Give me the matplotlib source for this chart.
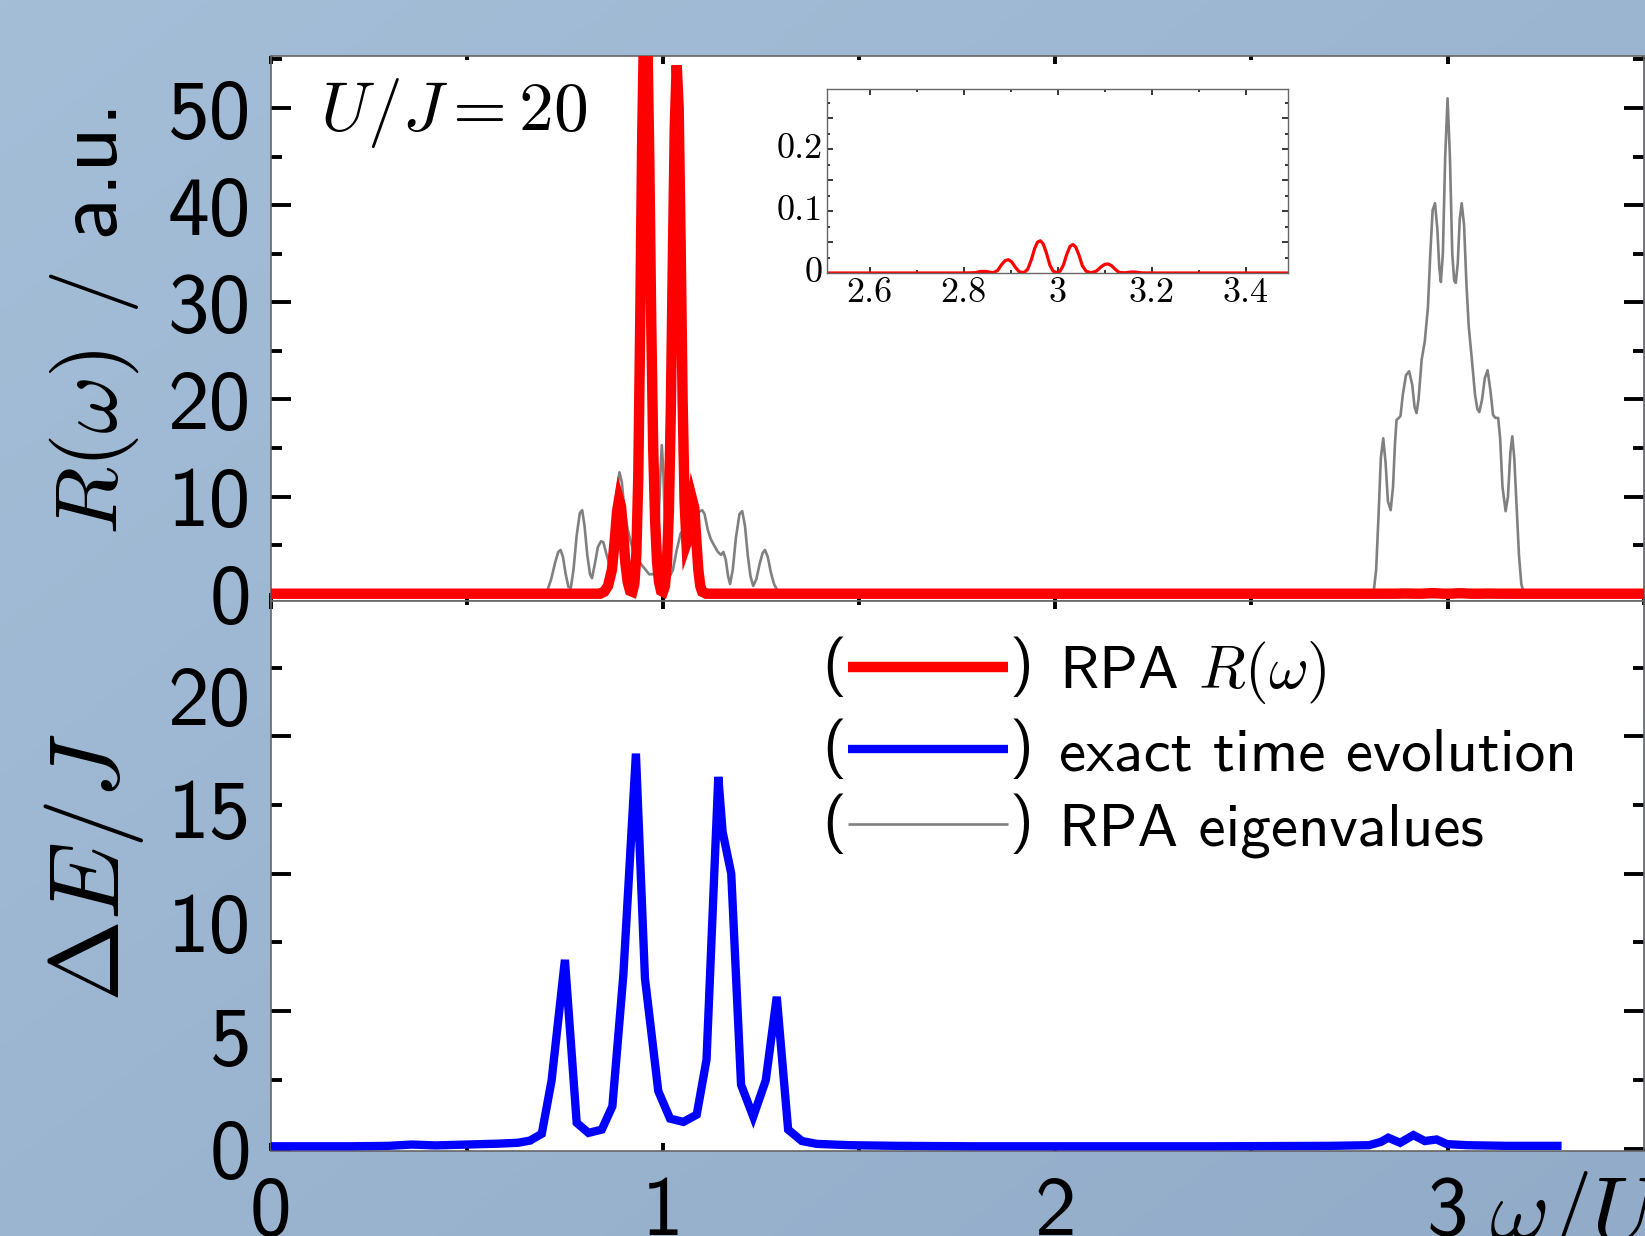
import numpy as np
import matplotlib
matplotlib.use("Agg")
import matplotlib.pyplot as plt
from matplotlib.ticker import MultipleLocator, FuncFormatter
from matplotlib.legend_handler import HandlerBase
from matplotlib.lines import Line2D
from matplotlib.text import Text
from matplotlib.colors import LinearSegmentedColormap

plt.rcParams["mathtext.fontset"] = "cm"
plt.rcParams["font.family"] = ["cmss10", "DejaVu Sans"]
plt.rcParams["axes.unicode_minus"] = False

# ---------------- data ----------------
red_w = [0.0, 0.84, 0.85, 0.86, 0.87, 0.877, 0.883, 0.888, 0.893, 0.898, 0.904, 0.91, 0.916, 0.922,
         0.927, 0.932, 0.937, 0.942, 0.947, 0.952, 0.956, 0.96, 0.965, 0.97, 0.975, 0.98, 0.985, 0.99,
         0.995, 1.0, 1.005, 1.01, 1.015, 1.02, 1.025, 1.03, 1.035, 1.04, 1.045, 1.05, 1.055, 1.06,
         1.065, 1.07, 1.075, 1.08, 1.085, 1.09, 1.095, 1.1, 1.11,
         2.8, 2.825, 2.835, 2.848, 2.862, 2.872, 2.88, 2.888, 2.895, 2.902, 2.91, 2.918, 2.928, 2.936,
         2.944, 2.951, 2.957, 2.963, 2.969, 2.976, 2.983, 2.99, 2.998, 3.005, 3.012, 3.019, 3.026,
         3.032, 3.038, 3.045, 3.052, 3.06, 3.07, 3.082, 3.092, 3.1, 3.107, 3.114, 3.122, 3.13, 3.142,
         3.155, 3.165, 3.178, 3.2, 3.5]
red_r = [0.0, 0.0, 0.2, 0.8, 2.5, 5.5, 8.5, 9.7, 9.0, 6.5, 3.2, 1.2, 0.3, 0.2,
         1.0, 4.0, 12.0, 28.0, 47.0, 59.0, 62.0, 58.0, 45.0, 28.0, 15.0, 7.5, 3.2, 1.2,
         0.3, 0.2, 0.8, 3.0, 8.5, 19.0, 34.0, 48.0, 54.4, 50.0, 36.0, 20.0, 9.5, 5.2,
         5.8, 8.0, 9.6, 8.8, 5.5, 2.5, 0.8, 0.2, 0.0,
         0.0, 0.0005, 0.0025, 0.0025, 0.0003, 0.004, 0.013, 0.020, 0.0215, 0.018, 0.009, 0.002, 0.0005,
         0.006, 0.022, 0.040, 0.050, 0.052, 0.047, 0.032, 0.013, 0.003, 0.0005, 0.003, 0.013, 0.030,
         0.043, 0.046, 0.042, 0.029, 0.012, 0.003, 0.0003, 0.003, 0.010, 0.014, 0.0145, 0.012, 0.006,
         0.001, 0.0003, 0.0015, 0.0015, 0.0002, 0.0, 0.0]

gray_w = [0.0, 0.69, 0.705, 0.715, 0.725, 0.733, 0.739, 0.745, 0.752, 0.759, 0.765, 0.772, 0.78,
          0.788, 0.794, 0.8, 0.807, 0.814, 0.819, 0.826, 0.834, 0.842, 0.848, 0.855, 0.862, 0.868,
          0.875, 0.882, 0.889, 0.895, 0.902, 0.91, 0.918, 0.926, 0.935, 0.945, 0.955, 0.965, 0.975,
          0.982, 0.988, 0.993, 0.997, 1.001, 1.006, 1.011, 1.017, 1.025, 1.035, 1.045, 1.06, 1.075,
          1.09, 1.1, 1.106, 1.114, 1.122, 1.13, 1.14, 1.148, 1.154, 1.16, 1.166, 1.171, 1.178, 1.186,
          1.195, 1.202, 1.209, 1.216, 1.223, 1.23, 1.238, 1.246, 1.254, 1.26, 1.267, 1.275, 1.283,
          1.292, 1.3,
          2.8, 2.812, 2.818, 2.824, 2.83, 2.836, 2.842, 2.848, 2.855, 2.861, 2.866, 2.87, 2.876, 2.88,
          2.886, 2.894, 2.902, 2.91, 2.916, 2.921, 2.926, 2.934, 2.942, 2.95, 2.956, 2.962, 2.968,
          2.974, 2.979, 2.983, 2.988, 2.994, 3.0, 3.006, 3.012, 3.017, 3.021, 3.026, 3.031, 3.036,
          3.042, 3.048, 3.054, 3.062, 3.07, 3.076, 3.081, 3.088, 3.095, 3.102, 3.109, 3.116, 3.122,
          3.129, 3.134, 3.14, 3.148, 3.154, 3.16, 3.165, 3.17, 3.176, 3.182, 3.188, 3.195, 3.5]
gray_r = [0.0, 0.0, 0.3, 1.5, 3.2, 4.3, 4.5, 3.8, 2.0, 0.7, 0.6, 2.5, 6.0,
          8.3, 8.6, 7.0, 4.0, 2.0, 1.6, 3.0, 4.8, 5.4, 5.3, 4.2, 3.2, 4.0,
          7.0, 10.5, 12.5, 11.5, 8.5, 6.6, 5.3, 4.3, 3.6, 3.0, 2.5, 2.0, 2.0,
          2.6, 6.5, 12.0, 15.3, 12.5, 5.5, 2.5, 1.8, 2.4, 4.5, 6.2, 7.0, 7.8,
          8.4, 8.6, 8.2, 6.6, 5.6, 5.0, 4.3, 4.0, 4.3, 3.5, 1.8, 1.0, 2.5, 5.8,
          8.2, 8.5, 7.0, 4.0, 1.8, 0.8, 1.5, 3.0, 4.2, 4.5, 3.8, 2.2, 1.0,
          0.3, 0.0,
          0.0, 0.3, 2.5, 8.0, 14.0, 16.0, 13.5, 9.5, 8.6, 11.0, 15.5, 17.9, 18.1, 18.3,
          20.5, 22.5, 22.9, 21.5, 19.2, 18.6, 20.0, 24.1, 26.0, 29.5, 35.0, 39.5, 40.2,
          37.5, 33.5, 32.1, 35.0, 45.0, 51.0, 45.0, 35.0, 32.2, 32.0, 34.0, 38.5, 40.2,
          38.0, 32.0, 27.5, 24.1, 20.5, 19.0, 18.7, 20.0, 22.2, 23.0, 21.0, 18.4, 18.1,
          18.1, 16.0, 11.0, 8.5, 10.0, 14.5, 16.2, 14.0, 9.0, 4.0, 1.0, 0.0, 0.0]

blue_w = [0.0, 0.1, 0.2, 0.3, 0.36, 0.42, 0.5, 0.58, 0.63, 0.661, 0.691, 0.716, 0.75, 0.78, 0.81,
          0.844, 0.871, 0.899, 0.931, 0.954, 0.988, 1.018, 1.052, 1.086, 1.111, 1.141, 1.152, 1.174,
          1.199, 1.23, 1.262, 1.29, 1.319, 1.354, 1.392, 1.477, 1.6, 1.8, 2.0, 2.4, 2.7, 2.8, 2.83,
          2.849, 2.879, 2.913, 2.942, 2.972, 2.998, 3.05, 3.15, 3.28]
blue_e = [0.1, 0.1, 0.1, 0.12, 0.18, 0.14, 0.18, 0.22, 0.26, 0.36, 0.67, 3.09, 8.58, 1.17, 0.71,
          0.86, 1.92, 7.9, 17.96, 7.75, 2.61, 1.36, 1.21, 1.54, 4.04, 16.9, 14.4, 12.5,
          2.9, 1.45, 3.1, 6.9, 0.86, 0.34, 0.21, 0.15, 0.12, 0.1, 0.1, 0.1, 0.12, 0.15, 0.3,
          0.49, 0.26, 0.61, 0.34, 0.41, 0.2, 0.15, 0.12, 0.12]

r_yticks = [0, 10, 20, 30, 40, 50]
e_ylabels = [0, 5, 10, 15, 20]
x_ticks = [0, 1, 2, 3]
inset_xticks = [2.6, 2.8, 3.0, 3.2, 3.4]
legend_labels = [r"RPA $R(\omega)$", "exact time evolution", "RPA eigenvalues"]

# ---------------- figure ----------------
W, H = 1645, 1236
fig = plt.figure(figsize=(W / 100, H / 100), dpi=100)

# light blue gradient background
bg = fig.add_axes([0, 0, 1, 1], zorder=-10)
gx, gy = np.meshgrid(np.linspace(0, 1, 256), np.linspace(0, 1, 256))
bg.imshow((gx + gy) / 2, cmap=LinearSegmentedColormap.from_list("bg", ["#a5bed8", "#92abc8"]),
          aspect="auto", extent=[0, 1, 0, 1], origin="upper")
bg.axis("off")

L = 270.7 / W
AW = (1643.7 - 270.7) / W
ax1 = fig.add_axes([L, 1 - 601 / H, AW, (601 - 55.6) / H])
ax2 = fig.add_axes([L, 1 - 1150.7 / H, AW, (1150.7 - 601) / H])

l_gray, = ax1.plot(gray_w, gray_r, color="#808080", lw=1.9, zorder=2)
l_red, = ax1.plot(red_w, red_r, color="#ff0000", lw=7.5, zorder=3, solid_joinstyle="miter")
l_blue, = ax2.plot(blue_w, blue_e, color="#0000ff", lw=6.0, zorder=3, solid_joinstyle="miter")

TICKFS = 60
for ax in (ax1, ax2):
    ax.set_xlim(0, 3.5)
    ax.xaxis.set_major_locator(MultipleLocator(1))
    ax.xaxis.set_minor_locator(MultipleLocator(0.5))
    ax.tick_params(axis="x", which="both", direction="in", top=True, bottom=True,
                   width=2.8, color="black")
    ax.tick_params(axis="x", which="major", length=6)
    ax.tick_params(axis="x", which="minor", length=3)
    ax.tick_params(axis="y", which="both", direction="in", left=True, right=True,
                   width=2.8, color="black")
    ax.tick_params(axis="y", which="major", length=14.5)
    ax.tick_params(axis="y", which="minor", length=8)
    for s in ax.spines.values():
        s.set_color("#666666")
        s.set_linewidth(1.2)

ax1.set_ylim(-0.75, 55.4)
ax1.set_yticks(r_yticks)
ax1.yaxis.set_minor_locator(MultipleLocator(5))
ax1.tick_params(axis="y", labelsize=TICKFS, pad=14)
ax1.tick_params(axis="x", labelbottom=False)

ax2.set_ylim(-0.1, 24.9)
ax2.yaxis.set_major_locator(MultipleLocator(6.25))
ax2.yaxis.set_minor_locator(MultipleLocator(3.125))
ax2.tick_params(axis="y", labelleft=False)
ax2.set_xticks(x_ticks)
ax2.xaxis.set_major_formatter(FuncFormatter(lambda v, p: "%g" % v))
ax2.tick_params(axis="x", labelsize=TICKFS, pad=18)

# the printed labels of the lower panel sit on a slightly stretched scale
LBL_STRETCH = 1.03
sec = ax2.secondary_yaxis("left", functions=(lambda y: y / LBL_STRETCH,
                                             lambda y: y * LBL_STRETCH))
sec.set_yticks(e_ylabels)
sec.yaxis.set_major_formatter(FuncFormatter(lambda v, p: "%g" % round(v)))
sec.tick_params(length=0, labelsize=TICKFS, pad=14)
sec.spines["left"].set_visible(False)

# labels
fig.text(94 / W, 1 - 322 / H, r"$R(\omega)$ / a.u.", rotation=90, ha="center", va="center",
         fontsize=64)
fig.text(94 / W, 1 - 868 / H, r"$\Delta E/J$", rotation=90, ha="center", va="center",
         fontsize=71)
fig.text(1489 / W, -5 / H, r"$\omega/U$", ha="left", va="baseline", fontsize=66)
ax1.text(0.036, 0.895, r"$U/J=20$", transform=ax1.transAxes, fontsize=50,
         ha="left", va="center")


# legend with parentheses around the line samples
class ParenLineHandler(HandlerBase):
    def create_artists(self, legend, orig_handle, xdescent, ydescent, width, height,
                       fontsize, trans):
        y = (height - ydescent) / 2
        pw = 0.42 * fontsize
        line = Line2D([-xdescent + pw, -xdescent + width - pw], [y, y])
        self.update_prop(line, orig_handle, legend)
        line.set_solid_capstyle("butt")
        line.set_transform(trans)
        lt = Text(-xdescent, y, "(", ha="left", va="center", fontsize=fontsize,
                  transform=trans)
        rt = Text(-xdescent + width, y, ")", ha="right", va="center", fontsize=fontsize,
                  transform=trans)
        return [line, lt, rt]


ax2.legend([l_red, l_blue, l_gray], legend_labels,
           handler_map={Line2D: ParenLineHandler()},
           loc="upper left", bbox_to_anchor=(0.402, 0.93), frameon=False, fontsize=44,
           handlelength=3.45, handletextpad=0.42, labelspacing=0.34, borderpad=0,
           borderaxespad=0)

# inset
axin = fig.add_axes([827.3 / W, 1 - 273 / H, 461 / W, 184 / H])
axin.plot(red_w, red_r, color="#ff0000", lw=2.3)
axin.set_xlim(2.51, 3.49)
axin.set_ylim(0, 0.297)
axin.set_xticks(inset_xticks)
axin.xaxis.set_minor_locator(MultipleLocator(0.1))
axin.xaxis.set_major_formatter(FuncFormatter(lambda v, p: "%g" % round(v, 3)))
axin.yaxis.set_major_locator(MultipleLocator(0.05))
axin.yaxis.set_minor_locator(MultipleLocator(0.025))


def inset_yfmt(v, p):
    k = round(v * 20)
    if k % 2:
        return ""
    return "%g" % round(v, 3)


axin.yaxis.set_major_formatter(FuncFormatter(inset_yfmt))
axin.tick_params(which="both", direction="in", top=True, right=True, width=1.1,
                 color="black", labelsize=26, labelfontfamily="cmr10", pad=3)
axin.tick_params(which="major", length=4.3)
axin.tick_params(which="minor", length=2.2)
for s in axin.spines.values():
    s.set_color("#666666")
    s.set_linewidth(1.0)
plt.setp(axin.get_yticklabels(), va="center")

fig.savefig("out.png", dpi=100, facecolor=fig.get_facecolor())
